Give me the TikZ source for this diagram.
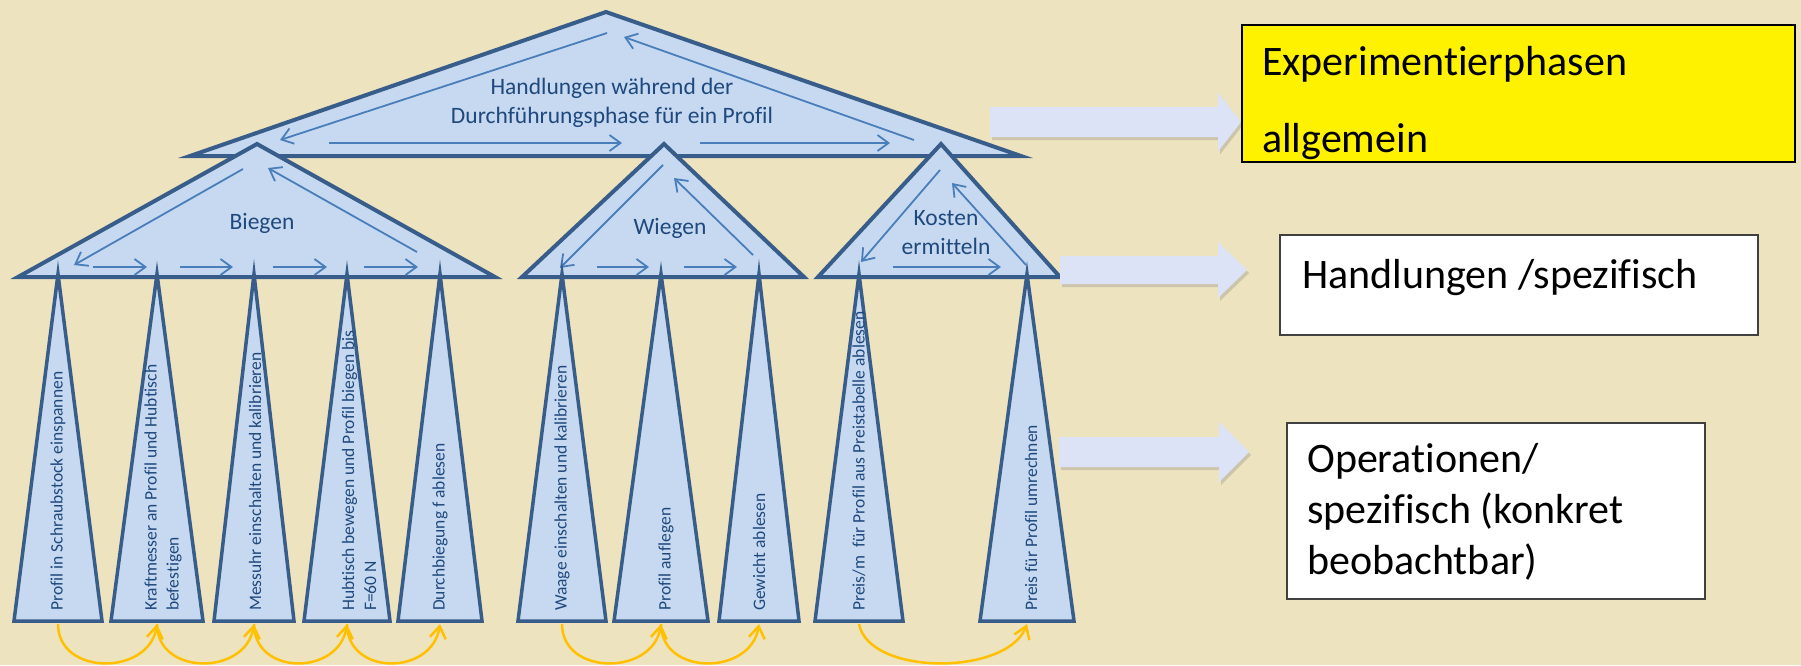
\documentclass[tikz,border=0pt]{standalone}
\usepackage{fontspec}
\setmainfont{Carlito}[Ligatures={NoCommon,NoRequired,NoContextual}]
\usetikzlibrary{arrows.meta,shadows}
\definecolor{paper}{HTML}{EEE3BF}
\definecolor{triFill}{HTML}{C6D9F1}
\definecolor{triLine}{HTML}{385D8A}
\definecolor{flowLine}{HTML}{4A7EBB}
\definecolor{triText}{HTML}{1F497D}
\definecolor{seqLine}{HTML}{FFC000}
\definecolor{blockFill}{HTML}{DCE3F6}
\definecolor{boxLine}{HTML}{404040}
\newcommand{\opTri}[2]{\filldraw[optri] (#1-#2,621) -- (#1,274) -- (#1+#2,621) -- cycle;}
\newcommand{\blockArrow}[6]{\fill[blockFill, drop shadow={shadow xshift=2pt, shadow yshift=-3pt, opacity=.3}] (#1,#4-#5) -- (#2,#4-#5) -- (#2,#4-#6) -- (#3,#4) -- (#2,#4+#6) -- (#2,#4+#5) -- (#1,#4+#5) -- cycle;}

\begin{document}
\begin{tikzpicture}[x=1pt,y=-1pt,
  tri/.style={fill=triFill, draw=triLine, line width=4pt, line join=miter},
  optri/.style={fill=triFill, draw=triLine, line width=3.5pt, line join=miter},
  flow/.style={draw=flowLine, line width=1.8pt, -{Straight Barb[length=11pt,width=16pt]}},
  seq/.style={draw=seqLine, line width=2.5pt, -{Straight Barb[length=12pt,width=16pt]}},
  lbl/.style={text=triText, font=\fontsize{23.5}{29}\selectfont, inner sep=0pt, anchor=base},
  oplbl/.style={text=triText, font=\fontsize{17.5}{22}\selectfont, inner sep=0pt, rotate=90, anchor=west, align=left},
  levelbox/.style={draw=boxLine, line width=1.5pt, fill=white, inner sep=0pt, anchor=north west},
  boxtxt/.style={font=\fontsize{42}{51}\selectfont, inner sep=0pt, anchor=base west}]
\fill[paper] (0,0) rectangle (1801,665);
\useasboundingbox (0,0) rectangle (1801,665);

\filldraw[tri] (190,156) -- (606,12) -- (1021,156) -- cycle;
\draw[flow] (607,33) -- (280,140);
\draw[flow] (914,140) -- (624,37);
\draw[flow] (329,143) -- (622,143);
\draw[flow] (700,143) -- (890,143);
\node[lbl] (phaseA) at (612,94) {Handlungen während der};
\node[lbl] (phaseB) at (612,123) {Durchführungsphase für ein Profil};

\filldraw[tri] (18,277) -- (257,144) -- (495,277) -- cycle;
\draw[flow] (243,169) -- (74,265);
\draw[flow] (417,252) -- (268,168);
\draw[flow] (93,267) -- (147,267);
\draw[flow] (180,267) -- (233,267);
\draw[flow] (273,267) -- (327,267);
\draw[flow] (364,267) -- (418,267);
\node[lbl] (biegen) at (262,229) {Biegen};

\filldraw[tri] (522,277) -- (664,144) -- (804,277) -- cycle;
\draw[flow] (663,165) -- (560,268);
\draw[flow] (753,255) -- (674,178);
\draw[flow] (597,267) -- (649,267);
\draw[flow] (684,267) -- (737,267);
\node[lbl] (wiegen) at (670,234) {Wiegen};

\filldraw[tri] (818,277) -- (941,144) -- (1060,277) -- cycle;
\draw[flow] (940,170) -- (861,262);
\draw[flow] (1026,265) -- (952,183);
\draw[flow] (893,267) -- (1001,267);
\node[lbl] (kostenA) at (946,225) {Kosten};
\node[lbl] (kostenB) at (946,254) {ermitteln};

\opTri{58}{44}
\opTri{157}{46}
\opTri{254}{40}
\opTri{347}{43}
\opTri{440}{42}
\opTri{562}{44}
\opTri{661}{47}
\opTri{759}{40}
\opTri{859}{44}
\opTri{1027}{47}

\node[oplbl] (op1) at (58,611) {Profil in Schraubstock einspannen};
\node[oplbl] (op2) at (163,611) {Kraftmesser an Profil und Hubtisch\\befestigen};
\node[oplbl] (op3) at (255,611) {Messuhr einschalten und kalibrieren};
\node[oplbl] (op4) at (359,611) {Hubtisch bewegen und Profil biegen bis\\F=60 N};
\node[oplbl] (op5) at (440,611) {Durchbiegung f ablesen};
\node[oplbl] (op6) at (562,611) {Waage einschalten und kalibrieren};
\node[oplbl] (op7) at (666,611) {Profil auflegen};
\node[oplbl] (op8) at (759,611) {Gewicht ablesen};
\node[oplbl] (op9) at (859,611) {Preis/m\ \ für Profil aus Preistabelle ablesen};
\node[oplbl] (op10) at (1031,611) {Preis für Profil umrechnen};

\coordinate (s1) at (58,624);
\coordinate (s2) at (157,624);
\coordinate (s3) at (254,624);
\coordinate (s4) at (347,624);
\coordinate (s5) at (440,624);
\coordinate (s6) at (562,624);
\coordinate (s7) at (661,624);
\coordinate (s8) at (759,624);
\coordinate (s9) at (859,624);
\coordinate (s10) at (1027,624);
\draw[seq] (s1) .. controls +(0,52) and +(-8,52) .. (s2);
\draw[seq] (s2) .. controls +(0,52) and +(-8,52) .. (s3);
\draw[seq] (s3) .. controls +(0,52) and +(-8,52) .. (s4);
\draw[seq] (s4) .. controls +(0,52) and +(-8,52) .. (s5);
\draw[seq] (s6) .. controls +(0,52) and +(-8,52) .. (s7);
\draw[seq] (s7) .. controls +(0,52) and +(-8,52) .. (s8);
\draw[seq] (s9) .. controls +(10,52) and +(-20,52) .. (s10);

\blockArrow{990}{1218}{1241}{122}{15}{29.5}
\blockArrow{1060}{1218}{1247}{270}{14}{28}
\blockArrow{1059}{1219}{1249}{452}{15}{30}

\node[levelbox, fill=yellow, draw=black, minimum width=553pt, minimum height=137pt] (phaseBox) at (1241,24) {};
\node[levelbox, minimum width=478pt, minimum height=100pt] (actBox) at (1279,234) {};
\node[levelbox, minimum width=418pt, minimum height=176pt] (opBox) at (1286,422) {};
\node[boxtxt] (phaseTxtA) at (1262,75) {Experimentierphasen};
\node[boxtxt] (phaseTxtB) at (1262,152) {allgemein};
\node[boxtxt] (actTxt) at (1302,288) {Handlungen /spezifisch};
\node[boxtxt] (opTxtA) at (1307,472) {Operationen/};
\node[boxtxt] (opTxtB) at (1307,523) {spezifisch (konkret};
\node[boxtxt] (opTxtC) at (1307,574) {beobachtbar)};
\end{tikzpicture}
\end{document}
